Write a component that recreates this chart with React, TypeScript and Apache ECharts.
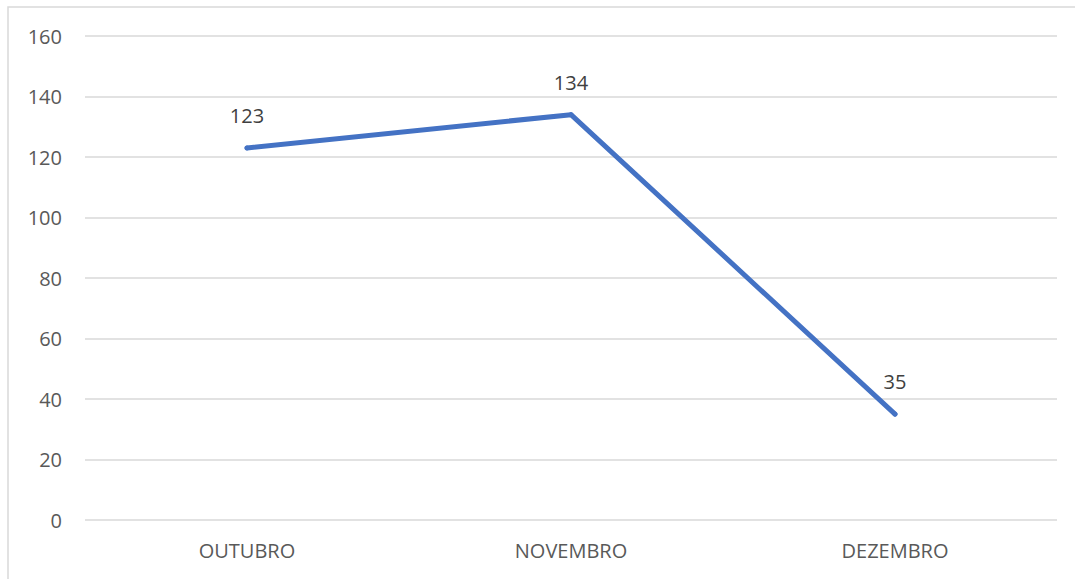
import React, { useEffect, useRef } from "react";
import * as echarts from "echarts";

const months = ["OUTUBRO", "NOVEMBRO", "DEZEMBRO"];
const values = [123, 134, 35];
const yMin = 0;
const yMax = 160;
const yStep = 20;

export default function App() {
  const ref = useRef<HTMLDivElement>(null);

  useEffect(() => {
    if (!ref.current) return;
    const chart = echarts.init(ref.current, null, { renderer: "svg" });
    const font = "'Open Sans', 'Noto Sans', sans-serif";
    chart.setOption({
      animation: false,
      backgroundColor: "#ffffff",
      graphic: [
        {
          type: "rect",
          shape: { x: 8, y: 7, width: 1100, height: 620 },
          style: { fill: "none", stroke: "#d9d9d9", lineWidth: 1.5 },
          silent: true,
        },
      ],
      grid: { left: 85, right: 18, top: 36, bottom: 59, containLabel: false },
      xAxis: {
        type: "category",
        data: months,
        boundaryGap: true,
        axisLine: { show: false },
        axisTick: { show: false },
        axisLabel: {
          color: "#595959",
          fontFamily: font,
          fontSize: 20,
          margin: 20,
        },
        splitLine: { show: false },
      },
      yAxis: {
        type: "value",
        min: yMin,
        max: yMax,
        interval: yStep,
        axisLine: { show: false },
        axisTick: { show: false },
        axisLabel: {
          color: "#595959",
          fontFamily: font,
          fontSize: 20,
          margin: 23,
        },
        splitLine: { lineStyle: { color: "#d9d9d9", width: 1.5 } },
      },
      series: [
        {
          type: "line",
          data: values,
          symbol: "circle",
          symbolSize: 5,
          itemStyle: { color: "#4472c4" },
          lineStyle: { color: "#4472c4", width: 5, cap: "round", join: "round" },
          label: {
            show: true,
            position: "top",
            distance: 20,
            color: "#404040",
            fontFamily: font,
            fontSize: 20,
          },
        },
      ],
    });
    return () => chart.dispose();
  }, []);

  return (
    <div
      ref={ref}
      style={{ position: "absolute", left: 0, top: 0, width: 1075, height: 579 }}
    />
  );
}
